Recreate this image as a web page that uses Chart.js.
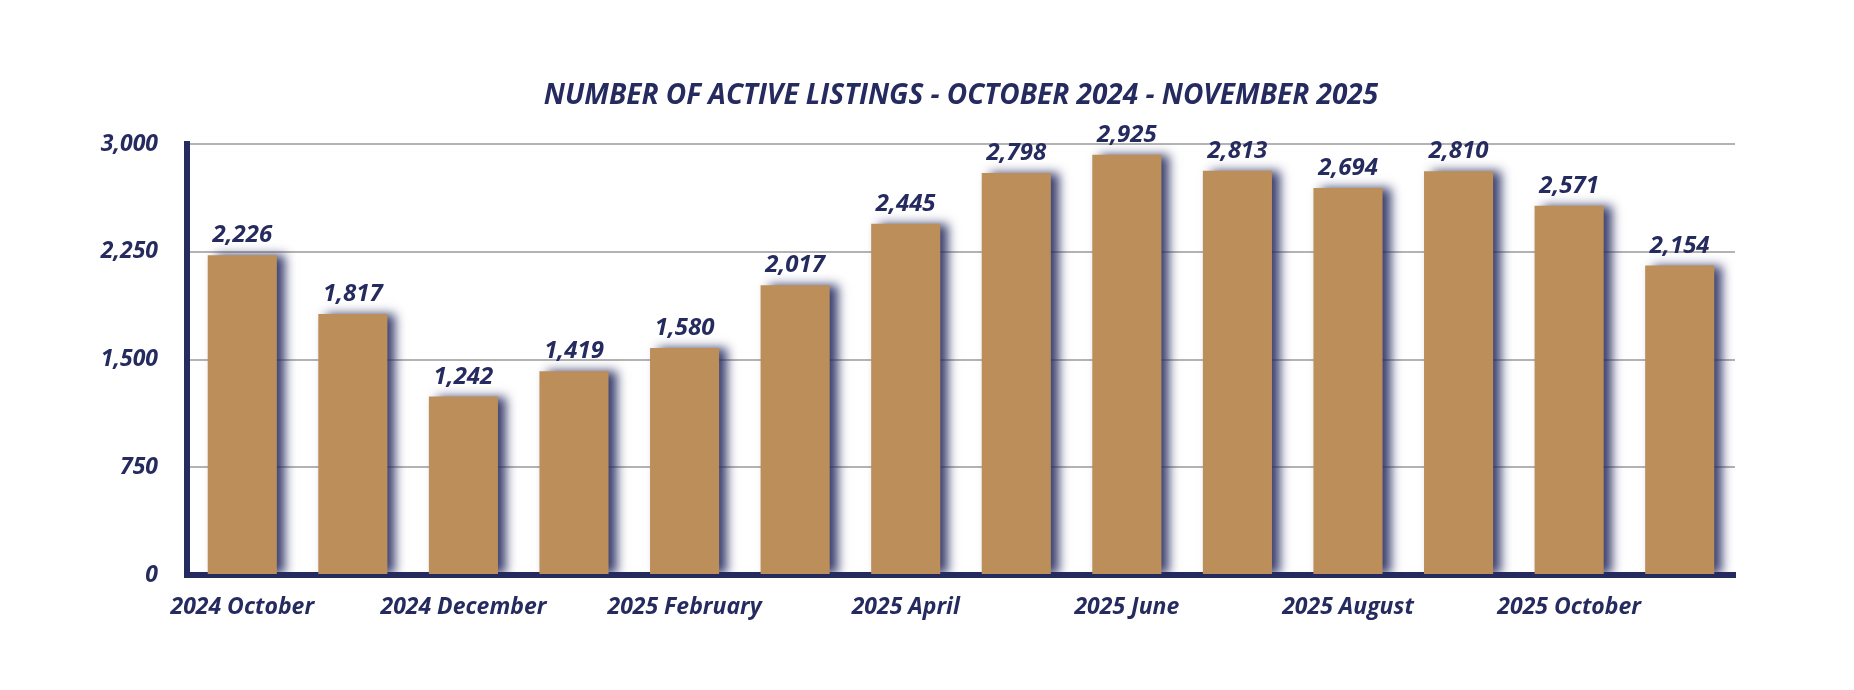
<!DOCTYPE html>
<html>
<head>
<meta charset="utf-8">
<script src="https://cdn.jsdelivr.net/npm/chart.js@4.4.0/dist/chart.umd.min.js"></script>
<style>
  html, body { margin: 0; padding: 0; background: #fff; }
  #wrap { width: 1854px; height: 690px; }
</style>
</head>
<body>
<div id="wrap"><canvas id="chart"></canvas></div>
<script>
// datos del grafico
const meses = [
  '2024 October', '2024 November', '2024 December', '2025 January',
  '2025 February', '2025 March', '2025 April', '2025 May',
  '2025 June', '2025 July', '2025 August', '2025 September',
  '2025 October', '2025 November'
];
const activas = [2226, 1817, 1242, 1419, 1580, 2017, 2445, 2798, 2925, 2813, 2694, 2810, 2571, 2154];
const ticksY = [0, 750, 1500, 2250, 3000];
const titulo = 'NUMBER OF ACTIVE LISTINGS - OCTOBER 2024 - NOVEMBER 2025';

const azul = '#262b5f';
const fuente = "'Open Sans'";

// sombra de las barras
const sombra = {
  id: 'sombra',
  beforeDatasetsDraw(chart) {
    const ctx = chart.ctx;
    ctx.save();
    ctx.shadowColor = 'rgba(38,43,95,0.9)';
    ctx.shadowBlur = 10;
    ctx.shadowOffsetX = 8;
    ctx.shadowOffsetY = 0;
  },
  afterDatasetsDraw(chart) {
    chart.ctx.restore();
  }
};

// valores encima de cada barra + titulo
const etiquetas = {
  id: 'etiquetas',
  afterDraw(chart) {
    const ctx = chart.ctx;
    const meta = chart.getDatasetMeta(0);
    ctx.save();
    ctx.fillStyle = azul;
    ctx.textAlign = 'center';
    ctx.textBaseline = 'alphabetic';
    ctx.font = 'italic bold 24px ' + fuente;
    meta.data.forEach((bar, i) => {
      ctx.fillText(activas[i].toLocaleString('en-US'), bar.x, bar.y - 13);
    });
    ctx.font = 'italic bold 28px ' + fuente;
    ctx.textBaseline = 'middle';
    const a = chart.chartArea;
    ctx.fillText(titulo, (a.left + a.right) / 2, 96);
    ctx.restore();
  }
};

const ctx = document.getElementById('chart').getContext('2d');
const chart = new Chart(ctx, {
  type: 'bar',
  data: {
    labels: meses,
    datasets: [{
      label: 'Active Listings',
      data: activas,
      backgroundColor: '#bc8f5a',
      borderWidth: 0,
      categoryPercentage: 1,
      barPercentage: 0.625
    }]
  },
  options: {
    responsive: true,
    maintainAspectRatio: false,
    animation: false,
    layout: { padding: { top: 144, right: 119, bottom: 0, left: 0 } },
    plugins: {
      legend: { display: false },
      tooltip: { enabled: false }
    },
    scales: {
      x: {
        z: 1,
        grid: { display: false },
        border: { display: true, color: azul, width: 6 },
        ticks: {
          autoSkip: false,
          maxRotation: 0,
          padding: 11,
          color: azul,
          font: { family: fuente, size: 23, style: 'italic', weight: 'bold' },
          callback: function (v, i) { return i % 2 === 0 ? meses[i] : ''; }
        },
        afterFit(scale) { scale.height = 115; }
      },
      y: {
        min: 0,
        max: 3000,
        afterBuildTicks(scale) { scale.ticks = ticksY.map(v => ({ value: v })); },
        grid: { color: '#b3b3b3', lineWidth: 2, drawTicks: false },
        border: { display: true, color: azul, width: 6 },
        ticks: {
          padding: 29,
          color: azul,
          font: { family: fuente, size: 23, style: 'italic', weight: 'bold' },
          callback: function (v) { return v.toLocaleString('en-US'); }
        },
        afterFit(scale) { scale.width = 187; }
      }
    }
  },
  plugins: [sombra, etiquetas]
});
</script>
</body>
</html>
